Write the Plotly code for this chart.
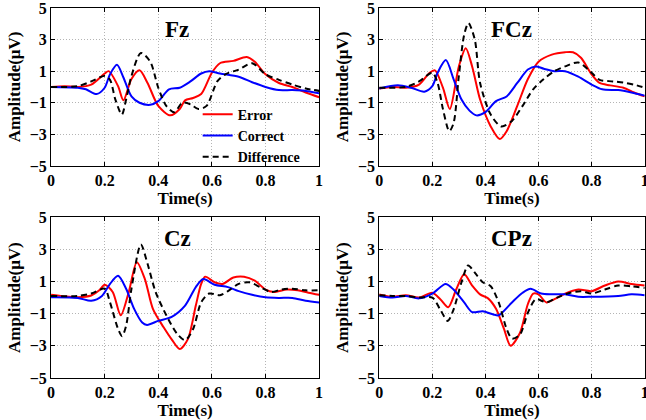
import plotly.graph_objects as go
from plotly.subplots import make_subplots

# ---- Fz ----
fz_err_t = [0, 0.05, 0.1, 0.15, 0.2, 0.215, 0.25, 0.27, 0.3, 0.33, 0.36, 0.4, 0.445, 0.48, 0.5, 0.53, 0.56, 0.6, 0.63, 0.68, 0.73, 0.76, 0.8, 0.85, 0.9, 0.95, 1.0]
fz_err_v = [0.0, 0.05, 0.0, 0.15, 0.85, 1.0, 0.05, -0.85, 0.5, 1.05, 0.25, -1.2, -1.8, -1.4, -0.85, -0.7, -0.45, 0.9, 1.5, 1.65, 1.9, 1.6, 0.8, 0.25, 0.0, -0.35, -0.65]
fz_cor_t = [0, 0.1, 0.13, 0.17, 0.2, 0.22, 0.246, 0.27, 0.3, 0.33, 0.37, 0.4, 0.44, 0.48, 0.52, 0.56, 0.59, 0.63, 0.7, 0.75, 0.8, 0.85, 0.9, 0.95, 1.0]
fz_cor_v = [0.0, -0.05, -0.15, -0.45, -0.05, 0.8, 1.4, 0.6, -0.6, -1.0, -1.13, -0.9, -0.15, -0.05, 0.35, 0.85, 1.0, 0.85, 0.65, 0.3, 0.0, -0.2, -0.2, -0.25, -0.4]
fz_dif_t = [0, 0.1, 0.15, 0.2, 0.22, 0.24, 0.264, 0.28, 0.3, 0.335, 0.37, 0.4, 0.43, 0.46, 0.49, 0.52, 0.55, 0.58, 0.62, 0.65, 0.7, 0.75, 0.8, 0.85, 0.9, 0.95, 1.0]
fz_dif_v = [0.0, 0.05, 0.35, 0.7, 0.45, -0.8, -1.75, -0.8, 0.7, 2.15, 1.6, -0.05, -1.2, -1.6, -1.0, -1.1, -1.4, -1.2, 0.35, 0.8, 1.1, 1.5, 0.8, 0.45, 0.15, -0.1, -0.25]

# ---- FCz ----
fcz_err_t = [0, 0.05, 0.1, 0.15, 0.19, 0.21, 0.24, 0.266, 0.3, 0.326, 0.35, 0.38, 0.42, 0.454, 0.48, 0.52, 0.56, 0.6, 0.65, 0.7, 0.73, 0.76, 0.8, 0.83, 0.87, 0.92, 0.96, 1.0]
fcz_err_v = [-0.1, 0.0, -0.05, 0.15, 0.9, 1.05, -0.05, -1.4, 1.3, 2.45, 1.3, -0.8, -2.5, -3.3, -2.8, -1.2, 0.5, 1.6, 2.05, 2.2, 2.2, 1.85, 0.8, 0.25, 0.1, -0.05, -0.35, -0.6]
fcz_cor_t = [0, 0.07, 0.12, 0.17, 0.2, 0.22, 0.251, 0.28, 0.31, 0.34, 0.366, 0.4, 0.44, 0.48, 0.52, 0.56, 0.59, 0.62, 0.66, 0.7, 0.75, 0.8, 0.84, 0.9, 0.95, 1.0]
fcz_cor_v = [-0.1, 0.1, -0.05, -0.3, 0.05, 0.9, 1.7, 0.5, -0.8, -1.5, -1.8, -1.6, -0.9, -0.6, 0.25, 1.1, 1.3, 1.15, 1.0, 1.0, 0.65, 0.15, -0.15, -0.2, -0.35, -0.55]
fcz_dif_t = [0, 0.1, 0.15, 0.2, 0.22, 0.24, 0.264, 0.28, 0.3, 0.32, 0.336, 0.36, 0.38, 0.42, 0.46, 0.5, 0.54, 0.58, 0.62, 0.66, 0.7, 0.75, 0.8, 0.83, 0.88, 0.93, 0.97, 1.0]
fcz_dif_v = [-0.05, 0.0, 0.35, 0.9, 0.25, -1.4, -2.8, -2.3, 0.7, 3.3, 4.05, 3.0, 0.25, -1.75, -2.5, -2.15, -1.2, -0.15, 0.5, 1.0, 1.3, 1.55, 0.9, 0.45, 0.35, 0.25, 0.1, -0.05]

# ---- Cz ----
cz_err_t = [0, 0.05, 0.1, 0.15, 0.18, 0.2, 0.23, 0.26, 0.29, 0.32, 0.35, 0.38, 0.42, 0.45, 0.48, 0.51, 0.54, 0.56, 0.575, 0.61, 0.64, 0.68, 0.72, 0.76, 0.8, 0.83, 0.88, 0.92, 0.96, 1.0]
cz_err_v = [0.17, 0.07, 0.02, 0.13, 0.45, 0.8, 0.35, -1.1, 0.35, 2.2, 1.15, -0.7, -1.85, -2.6, -3.2, -2.6, -0.5, 0.85, 1.3, 0.95, 0.85, 1.25, 1.3, 1.05, 0.5, 0.35, 0.5, 0.45, 0.3, 0.17]
cz_cor_t = [0, 0.1, 0.15, 0.19, 0.22, 0.25, 0.28, 0.31, 0.34, 0.358, 0.4, 0.45, 0.5, 0.54, 0.568, 0.61, 0.66, 0.7, 0.75, 0.8, 0.85, 0.9, 0.95, 1.0]
cz_cor_v = [0.02, -0.02, -0.2, 0.1, 0.85, 1.35, 0.55, -0.7, -1.55, -1.7, -1.45, -1.2, -0.5, 0.65, 1.15, 0.8, 0.65, 0.4, 0.17, 0.02, -0.02, -0.02, -0.2, -0.3]
cz_dif_t = [0, 0.1, 0.15, 0.2, 0.22, 0.25, 0.265, 0.28, 0.3, 0.335, 0.36, 0.39, 0.43, 0.47, 0.5, 0.53, 0.56, 0.59, 0.63, 0.66, 0.7, 0.74, 0.78, 0.82, 0.86, 0.9, 0.95, 1.0]
cz_dif_v = [0.1, 0.1, 0.25, 0.55, -0.3, -1.95, -2.4, -1.75, 0.55, 3.3, 2.1, 0.35, -1.1, -2.25, -2.65, -1.95, -0.3, 0.25, 0.15, 0.4, 0.85, 0.95, 0.65, 0.35, 0.5, 0.55, 0.45, 0.45]

# ---- CPz ----
cpz_err_t = [0, 0.05, 0.1, 0.15, 0.2, 0.23, 0.26, 0.29, 0.32, 0.35, 0.38, 0.41, 0.44, 0.47, 0.495, 0.53, 0.56, 0.58, 0.6, 0.63, 0.66, 0.7, 0.75, 0.8, 0.85, 0.9, 0.95, 1.0]
cpz_err_v = [0.2, 0.05, 0.15, 0.0, 0.3, -0.1, -0.6, 0.5, 1.45, 0.75, 0.2, -0.05, -0.7, -1.95, -3.0, -2.2, -0.4, 0.25, 0.2, -0.3, -0.1, 0.25, 0.5, 0.4, 0.75, 1.0, 0.85, 0.75]
cpz_cor_t = [0, 0.05, 0.1, 0.15, 0.2, 0.25, 0.28, 0.32, 0.35, 0.39, 0.43, 0.45, 0.5, 0.54, 0.57, 0.61, 0.65, 0.7, 0.75, 0.8, 0.9, 0.95, 1.0]
cpz_cor_v = [0.1, 0.0, 0.1, -0.05, 0.25, 0.85, 0.5, -0.3, -0.9, -0.85, -1.05, -1.1, -0.3, 0.3, 0.55, 0.25, 0.2, 0.2, 0.05, 0.05, 0.1, 0.2, 0.15]
cpz_dif_t = [0, 0.05, 0.1, 0.15, 0.2, 0.23, 0.258, 0.28, 0.31, 0.335, 0.36, 0.39, 0.42, 0.45, 0.48, 0.5, 0.53, 0.56, 0.59, 0.63, 0.67, 0.72, 0.76, 0.8, 0.85, 0.9, 0.95, 1.0]
cpz_dif_v = [0.15, 0.1, 0.1, 0.0, 0.0, -0.75, -1.45, -0.75, 0.95, 2.0, 1.55, 0.95, 0.7, -0.3, -1.95, -2.55, -2.3, -0.95, -0.1, -0.3, 0.0, 0.3, 0.4, 0.25, 0.5, 0.75, 0.7, 0.6]

panel_names = ['Fz', 'FCz', 'Cz', 'CPz']
series_names = ['Error', 'Correct', 'Difference']
y_ticks = [-5, -3, -1, 1, 3, 5]

panels = [
    (fz_err_t, fz_err_v, fz_cor_t, fz_cor_v, fz_dif_t, fz_dif_v),
    (fcz_err_t, fcz_err_v, fcz_cor_t, fcz_cor_v, fcz_dif_t, fcz_dif_v),
    (cz_err_t, cz_err_v, cz_cor_t, cz_cor_v, cz_dif_t, cz_dif_v),
    (cpz_err_t, cpz_err_v, cpz_cor_t, cpz_cor_v, cpz_dif_t, cpz_dif_v),
]

FONT = 'Liberation Serif'
styles = [
    dict(color='#ff0000', width=2),
    dict(color='#0000ff', width=2),
    dict(color='black', width=2, dash='6px,4px'),
]

fig = make_subplots(rows=2, cols=2)

for i, p in enumerate(panels):
    r, c = i // 2 + 1, i % 2 + 1
    for k in range(3):
        fig.add_trace(
            go.Scatter(
                x=p[2 * k], y=p[2 * k + 1],
                name=series_names[k],
                mode='lines',
                line=dict(shape='spline', smoothing=0.8, **styles[k]),
                showlegend=(i == 0),
            ),
            row=r, col=c
        )
    fig.add_annotation(
        x=0.47 if c == 1 else 0.5, y=3.65, text=panel_names[i],
        showarrow=False, xanchor='center', yanchor='middle',
        font=dict(family=FONT, size=23, color='black', weight='bold'),
        row=r, col=c
    )

# 子图位置 (像素换算)
x_dom = [[0.079, 0.494], [0.587, 0.998]]
y_dom = [[0.605, 0.981], [0.10, 0.483]]

axis_common = dict(
    showline=True, linecolor='black', linewidth=1, mirror='allticks',
    ticks='inside', ticklen=4, tickcolor='black',
    showgrid=True, gridcolor='#b4b4b4', griddash='1px,2px', gridwidth=1,
    zeroline=False, automargin=False, ticklabeloverflow='allow',
    tickfont=dict(family=FONT, size=16, color='black', weight='bold'),
)

for i in range(4):
    r, c = i // 2, i % 2
    fig.update_xaxes(
        domain=x_dom[c], range=[0, 1], dtick=0.2, tick0=0,
        ticklabelstandoff=0,
        title=dict(text='Time(s)', standoff=0,
                   font=dict(family=FONT, size=17, color='black', weight='bold')),
        row=r + 1, col=c + 1, **axis_common
    )
    fig.update_yaxes(
        domain=y_dom[r], range=[-5, 5], tickvals=y_ticks,
        title=dict(text='Amplitude(μV)', standoff=4,
                   font=dict(family=FONT, size=17, color='black', weight='bold')),
        row=r + 1, col=c + 1, **axis_common
    )

fig.update_layout(
    width=646, height=420,
    margin=dict(l=0, r=0, t=0, b=0),
    paper_bgcolor='white', plot_bgcolor='white',
    font=dict(family=FONT, color='black'),
    legend=dict(
        x=0.306, y=0.765, xanchor='left', yanchor='top',
        bgcolor='rgba(0,0,0,0)', borderwidth=0,
        font=dict(family=FONT, size=14, color='black', weight='bold'),
        tracegroupgap=0, itemwidth=30,
    ),
)

# 去掉页面默认边距
fig.write_html("out.html", config={'displayModeBar': False},
               post_script="document.body.style.margin='0';")
